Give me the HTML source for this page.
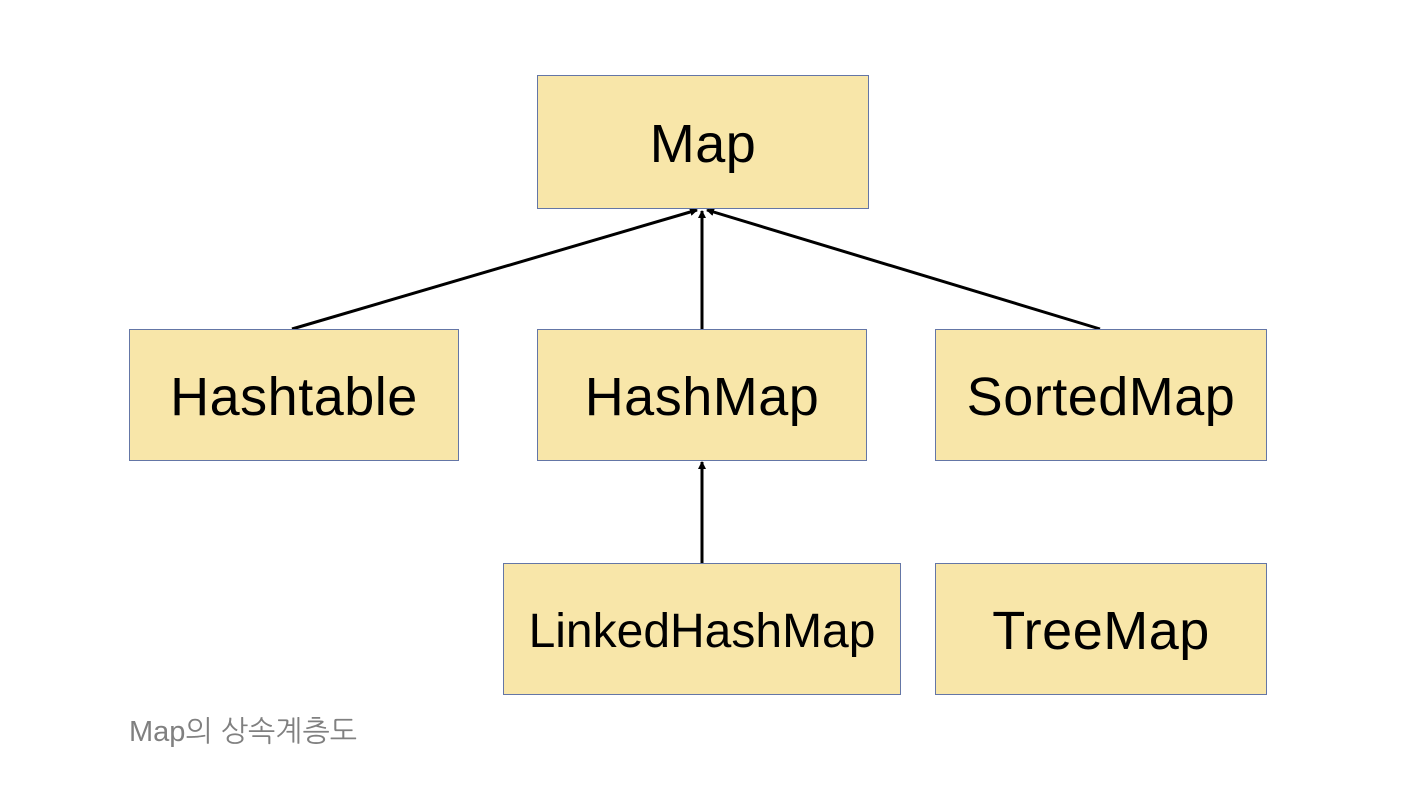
<!DOCTYPE html>
<html><head><meta charset="utf-8"><style>
body{margin:0;width:1408px;height:802px;background:#fff;position:relative;overflow:hidden;font-family:"Liberation Sans","Noto Sans CJK KR",sans-serif}
.b{position:absolute;box-sizing:border-box;background:#f8e6a9;border:1.5px solid #6476a6;display:flex;align-items:center;justify-content:center;font-size:54px;letter-spacing:0.5px;color:#000;padding-top:4px}
.c{position:absolute;left:129px;top:714px;font-size:29px;color:#808080;font-family:"Liberation Sans","NanumGothic","Noto Sans CJK KR",sans-serif}
</style></head><body>
<svg width="1408" height="802" style="position:absolute;left:0;top:0">
<defs><marker id="a" markerWidth="8" markerHeight="8" refX="7" refY="4" orient="auto" markerUnits="userSpaceOnUse"><path d="M0,0 L8,4 L0,8 z" fill="#000"/></marker></defs>
<g stroke="#000" stroke-width="3" fill="none">
<line x1="292" y1="329" x2="697" y2="210" marker-end="url(#a)"/>
<line x1="702" y1="329" x2="702" y2="211" marker-end="url(#a)"/>
<line x1="1100" y1="329" x2="707" y2="210" marker-end="url(#a)"/>
<line x1="702" y1="563" x2="702" y2="462" marker-end="url(#a)"/>
</g></svg>
<div class="b" style="left:537px;top:75px;width:332px;height:134px">Map</div>
<div class="b" style="left:129px;top:329px;width:330px;height:132px">Hashtable</div>
<div class="b" style="left:537px;top:329px;width:330px;height:132px">HashMap</div>
<div class="b" style="left:935px;top:329px;width:332px;height:132px">SortedMap</div>
<div class="b" style="left:503px;top:563px;width:398px;height:132px;font-size:48px;letter-spacing:0">LinkedHashMap</div>
<div class="b" style="left:935px;top:563px;width:332px;height:132px">TreeMap</div>
<div class="c">Map의 상속계층도</div>
</body></html>
